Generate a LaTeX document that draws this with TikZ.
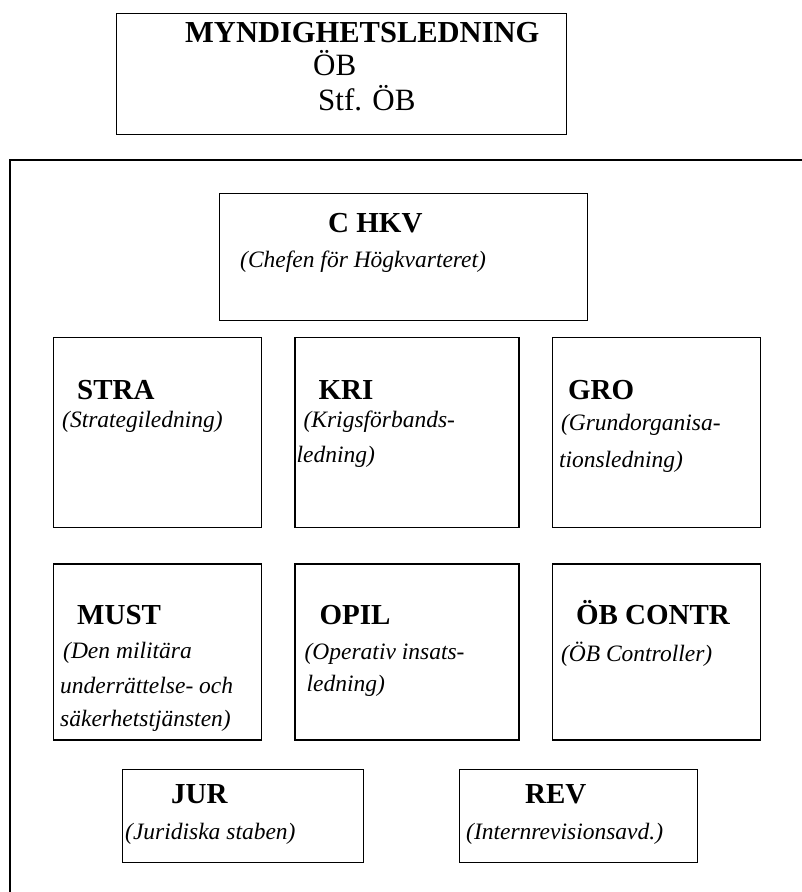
\documentclass[tikz,border=0pt]{standalone}
\usepackage{fontspec}
\setmainfont{Liberation Serif}
\usetikzlibrary{positioning}

\begin{document}
\begin{tikzpicture}[
    x=1pt, y=-1pt,
    unit box/.style={rectangle,draw,line width=1.4pt,inner sep=0pt,anchor=north west},
    frame line/.style={draw,line width=1.4pt},
    title text/.style={font=\fontsize{29}{32}\selectfont\bfseries,anchor=base west,inner sep=0pt},
    plain text/.style={font=\fontsize{31}{34}\selectfont,anchor=base west,inner sep=0pt},
    desc text/.style={font=\fontsize{23.5}{28}\selectfont\itshape,anchor=base west,inner sep=0pt}
]
\useasboundingbox (0,0) rectangle (802,892);

% Top management
\node[unit box, minimum width=450pt, minimum height=121pt] (myn) at (116,13) {};
\node[title text, font=\fontsize{30.5}{33}\selectfont\bfseries] (myn_t) at ([shift={(69,29)}]myn.north west) {MYNDIGHETSLEDNING};
\node[plain text] (myn_ob) at ([shift={(197,62)}]myn.north west) {ÖB};
\node[plain text] (myn_stf) at ([shift={(202,97)}]myn.north west) {Stf. ÖB};

% HKV frame
\coordinate (frame_tr) at (802,160);
\coordinate (frame_tl) at (10,160);
\coordinate (frame_bl) at (10,892);
\draw[frame line] (frame_tr) -- (frame_tl) -- (frame_bl);

% C HKV
\node[unit box, minimum width=368pt, minimum height=127pt] (chkv) at (219,193) {};
\node[title text] (chkv_t) at ([shift={(109,39)}]chkv.north west) {C HKV};
\node[desc text] (chkv_d) at ([shift={(21,74)}]chkv.north west) {(Chefen för Högkvarteret)};

% First row
\node[unit box, minimum width=208pt, minimum height=190pt] (stra) at (53,337) {};
\node[unit box, minimum width=224pt, minimum height=190pt, right=32pt of stra] (kri) {};
\node[unit box, minimum width=208pt, minimum height=190pt, right=32pt of kri] (gro) {};

\node[title text] (stra_t) at ([shift={(24,62)}]stra.north west) {STRA};
\node[desc text] (stra_d) at ([shift={(9,90)}]stra.north west) {(Strategiledning)};

\node[title text] (kri_t) at ([shift={(24,62)}]kri.north west) {KRI};
\node[desc text] (kri_d1) at ([shift={(9,90)}]kri.north west) {(Krigsförbands-};
\node[desc text] (kri_d2) at ([shift={(2,125)}]kri.north west) {ledning)};

\node[title text] (gro_t) at ([shift={(16,62)}]gro.north west) {GRO};
\node[desc text] (gro_d1) at ([shift={(9,93)}]gro.north west) {(Grundorganisa-};
\node[desc text] (gro_d2) at ([shift={(7,130)}]gro.north west) {tionsledning)};

% Second row
\node[unit box, minimum width=208pt, minimum height=176pt, below=35pt of stra] (must) {};
\node[unit box, minimum width=224pt, minimum height=176pt, below=35pt of kri] (opil) {};
\node[unit box, minimum width=208pt, minimum height=176pt, below=35pt of gro] (contr) {};

\node[title text] (must_t) at ([shift={(24,61)}]must.north west) {MUST};
\node[desc text] (must_d1) at ([shift={(10,95)}]must.north west) {(Den militära};
\node[desc text] (must_d2) at ([shift={(7,130)}]must.north west) {underrättelse- och};
\node[desc text] (must_d3) at ([shift={(7,163)}]must.north west) {säkerhetstjänsten)};

\node[title text] (opil_t) at ([shift={(25,61)}]opil.north west) {OPIL};
\node[desc text] (opil_d1) at ([shift={(10,96)}]opil.north west) {(Operativ insats-};
\node[desc text] (opil_d2) at ([shift={(12,128)}]opil.north west) {ledning)};

\node[title text] (contr_t) at ([shift={(24,61)}]contr.north west) {ÖB CONTR};
\node[desc text] (contr_d) at ([shift={(9,98)}]contr.north west) {(ÖB Controller)};

% Staff units
\node[unit box, minimum width=241pt, minimum height=93pt] (jur) at (122,769) {};
\node[unit box, minimum width=238pt, minimum height=93pt] (rev) at (459,769) {};

\node[title text] (jur_t) at ([shift={(49,34)}]jur.north west) {JUR};
\node[desc text] (jur_d) at ([shift={(3,70)}]jur.north west) {(Juridiska staben)};

\node[title text] (rev_t) at ([shift={(66,34)}]rev.north west) {REV};
\node[desc text] (rev_d) at ([shift={(7,70)}]rev.north west) {(Internrevisionsavd.)};

\end{tikzpicture}
\end{document}
